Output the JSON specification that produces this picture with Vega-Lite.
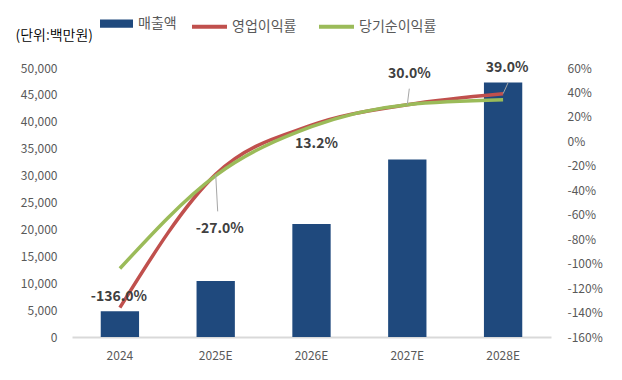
{
  "$schema": "https://vega.github.io/schema/vega-lite/v6.json",
  "width": 479,
  "height": 269,
  "autosize": {"type": "none"},
  "padding": {"left": 72, "top": 68, "right": 71, "bottom": 43},
  "background": "white",
  "config": {
    "font": "Noto Sans CJK KR",
    "view": {"stroke": null},
    "axis": {"labelColor": "#595959", "labelFontSize": 12, "labelFont": "Noto Sans CJK KR"},
    "legend": {"labelFont": "Noto Sans CJK KR", "labelFontSize": 14, "labelColor": "#595959"}
  },
  "datasets": {
    "sales": [
      {"year": "2024", "sales": 4800},
      {"year": "2025E", "sales": 10400},
      {"year": "2026E", "sales": 21000},
      {"year": "2027E", "sales": 33000},
      {"year": "2028E", "sales": 47300}
    ],
    "margins": [
      {"year": "2024", "series": "영업이익률", "value": -136.0},
      {"year": "2025E", "series": "영업이익률", "value": -27.0},
      {"year": "2026E", "series": "영업이익률", "value": 13.2},
      {"year": "2027E", "series": "영업이익률", "value": 30.0},
      {"year": "2028E", "series": "영업이익률", "value": 39.0},
      {"year": "2024", "series": "당기순이익률", "value": -104.0},
      {"year": "2025E", "series": "당기순이익률", "value": -28.0},
      {"year": "2026E", "series": "당기순이익률", "value": 12.0},
      {"year": "2027E", "series": "당기순이익률", "value": 30.0},
      {"year": "2028E", "series": "당기순이익률", "value": 34.0}
    ]
  },
  "encoding": {
    "x": {
      "field": "year", "type": "nominal",
      "scale": {"paddingInner": 0, "paddingOuter": 0},
      "axis": {"title": null, "labelAngle": 0, "domainColor": "#d9d9d9", "domainWidth": 2, "ticks": false, "labelPadding": 13, "labelFontSize": 12}
    }
  },
  "layer": [
    {
      "data": {"name": "sales"},
      "mark": {"type": "bar", "width": {"band": 0.4}},
      "encoding": {
        "y": {
          "field": "sales", "type": "quantitative",
          "scale": {"domain": [0, 50000], "nice": false},
          "axis": {
            "title": "(단위:백만원)", "titleAngle": 0, "titleX": -57, "titleY": -33,
            "titleAlign": "left", "titleBaseline": "middle", "titleFontWeight": 350,
            "titleFontSize": 14, "titleColor": "#000000", "titleFont": "Noto Sans CJK KR",
            "domain": false, "ticks": false, "grid": false, "labelPadding": 15,
            "values": [0, 5000, 10000, 15000, 20000, 25000, 30000, 35000, 40000, 45000, 50000],
            "format": ",d"
          }
        },
        "fill": {
          "datum": "매출액",
          "scale": {"range": ["#1f497d"]},
          "legend": {
            "title": null, "orient": "none", "legendX": 28, "legendY": -61,
            "symbolType": "M-1,-0.25H1V0.25H-1Z", "symbolSize": 1089, "symbolStrokeWidth": 0,
            "labelOffset": 5
          }
        }
      }
    },
    {
      "data": {"name": "margins"},
      "encoding": {
        "y": {
          "field": "value", "type": "quantitative",
          "scale": {"domain": [-160, 60], "nice": false},
          "axis": {
            "orient": "right", "title": null, "domain": false, "ticks": false, "grid": false,
            "labelPadding": 16,
            "values": [-160, -140, -120, -100, -80, -60, -40, -20, 0, 20, 40, 60],
            "labelExpr": "datum.value + '%'"
          }
        }
      },
      "layer": [
        {
          "mark": {"type": "line", "interpolate": "monotone", "strokeWidth": 3.5},
          "encoding": {
            "stroke": {
              "field": "series", "type": "nominal",
              "scale": {"domain": ["영업이익률", "당기순이익률"], "range": ["#c0504d", "#9bbb59"]},
              "legend": {
                "title": null, "orient": "none", "direction": "horizontal", "legendX": 118, "legendY": -61,
                "symbolType": "stroke", "symbolStrokeWidth": 4, "symbolSize": 1225,
                "labelOffset": 3, "columnPadding": 14
              }
            }
          }
        },
        {
          "transform": [{"filter": "datum.series == '영업이익률' && datum.year == '2025E'"}],
          "mark": {"type": "rule", "color": "#a6a6a6", "strokeWidth": 1, "y2Offset": 37, "x2Offset": 2},
          "encoding": {"y2": {"field": "value"}, "x2": {"field": "year"}}
        },
        {
          "transform": [{"filter": "datum.series == '영업이익률' && datum.year == '2027E'"}],
          "mark": {"type": "rule", "color": "#a6a6a6", "strokeWidth": 1, "y2Offset": -16, "x2Offset": 2},
          "encoding": {"y2": {"field": "value"}, "x2": {"field": "year"}}
        },
        {
          "transform": [{"filter": "datum.series == '영업이익률' && datum.year == '2028E'"}],
          "mark": {"type": "rule", "color": "#a6a6a6", "strokeWidth": 1, "y2Offset": -11, "x2Offset": 5},
          "encoding": {"y2": {"field": "value"}, "x2": {"field": "year"}}
        },
        {
          "transform": [
            {"filter": "datum.series == '영업이익률' && datum.year == '2024'"},
            {"calculate": "(datum.value < 0 ? '-' : '') + format(abs(datum.value), '.1f') + '%'", "as": "label"}
          ],
          "mark": {"type": "text", "fontWeight": "bold", "fontSize": 14, "color": "#404040", "dx": -1, "dy": -11},
          "encoding": {"text": {"field": "label"}}
        },
        {
          "transform": [
            {"filter": "datum.series == '영업이익률' && datum.year == '2025E'"},
            {"calculate": "(datum.value < 0 ? '-' : '') + format(abs(datum.value), '.1f') + '%'", "as": "label"}
          ],
          "mark": {"type": "text", "fontWeight": "bold", "fontSize": 14, "color": "#404040", "dx": 4, "dy": 55},
          "encoding": {"text": {"field": "label"}}
        },
        {
          "transform": [
            {"filter": "datum.series == '영업이익률' && datum.year == '2026E'"},
            {"calculate": "(datum.value < 0 ? '-' : '') + format(abs(datum.value), '.1f') + '%'", "as": "label"}
          ],
          "mark": {"type": "text", "fontWeight": "bold", "fontSize": 14, "color": "#404040", "dx": 5, "dy": 19},
          "encoding": {"text": {"field": "label"}}
        },
        {
          "transform": [
            {"filter": "datum.series == '영업이익률' && datum.year == '2027E'"},
            {"calculate": "(datum.value < 0 ? '-' : '') + format(abs(datum.value), '.1f') + '%'", "as": "label"}
          ],
          "mark": {"type": "text", "fontWeight": "bold", "fontSize": 14, "color": "#404040", "dx": 2, "dy": -31},
          "encoding": {"text": {"field": "label"}}
        },
        {
          "transform": [
            {"filter": "datum.series == '영업이익률' && datum.year == '2028E'"},
            {"calculate": "(datum.value < 0 ? '-' : '') + format(abs(datum.value), '.1f') + '%'", "as": "label"}
          ],
          "mark": {"type": "text", "fontWeight": "bold", "fontSize": 14, "color": "#404040", "dx": 4, "dy": -26},
          "encoding": {"text": {"field": "label"}}
        }
      ]
    }
  ],
  "resolve": {"scale": {"y": "independent", "fill": "independent", "stroke": "independent"}}
}
